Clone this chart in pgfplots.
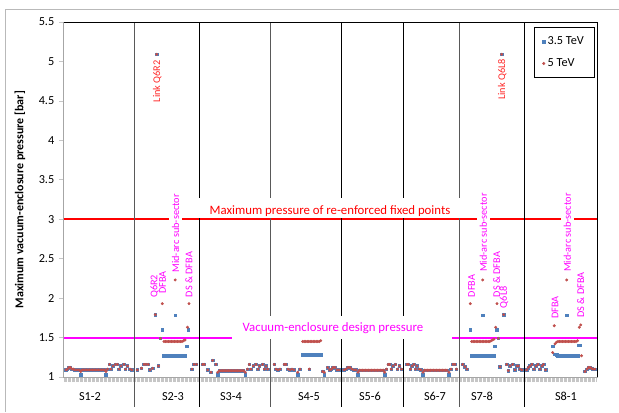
\documentclass[border=0pt]{standalone}
\usepackage{fontspec}
\setmainfont{Carlito}
\usepackage{pgfplots}
\usepackage{pgfplotstable}
\pgfplotsset{compat=1.18}
\definecolor{sblue}{RGB}{79,129,189}
\definecolor{sred}{RGB}{192,80,77}
\definecolor{mag}{RGB}{255,0,255}
\definecolor{lred}{RGB}{255,0,0}
\definecolor{lnkred}{RGB}{255,40,40}

\pgfplotstableread{
x b r
66 1.09 1.09
67.5 1.10 1.10
69 1.12 1.12
70.5 1.12 1.12
72 1.10 1.10
73.5 1.10 1.10
75 1.09 1.09
77 1.09 1.09
79 1.09 1.09
80.7 1.03 1.07
82 1.09 1.09
83.5 1.09 1.09
85 1.09 1.09
86.5 1.09 1.09
88 1.09 1.09
89.5 1.09 1.09
91 1.09 1.09
92.5 1.09 1.09
94 1.09 1.09
95.5 1.09 1.09
97 1.09 1.09
98.5 1.09 1.09
100 1.09 1.09
101.5 1.09 1.09
103 1.09 1.09
104.5 1.09 1.09
106 1.03 1.07
107.5 1.10 1.10
109.5 1.16 1.16
111 1.10 1.10
113 1.14 1.14
115.5 1.16 1.16
117.5 1.16 1.16
119 1.10 1.10
121 1.14 1.14
124 1.16 1.16
125.5 1.10 1.10
127.5 1.14 1.14
130 1.10 1.10
132 1.09 1.09
137.3 1.09 1.09
141.5 1.11 1.11
144 1.16 1.16
146 1.16 1.16
148.3 1.16 1.16
150 1.09 1.09
152.7 1.11 1.11
155.3 1.79 1.79
156.7 5.09 5.09
158.5 1.14 1.14
160.5 1.49 1.49
162.3 1.60 1.93
164 1.27 1.45
165.5 1.27 1.45
167 1.27 1.45
168.5 1.27 1.45
170 1.27 1.45
171.5 1.27 1.45
173 1.27 1.45
174.5 1.27 1.45
176 1.27 1.45
177.5 1.27 1.45
179 1.27 1.45
180.5 1.27 1.45
182 1.27 1.45
183.5 1.27 1.46
185 1.27 1.47
175.2 1.78 2.23
187 1.39 nan
187.5 nan 1.63
188.5 1.60 nan
189 nan 1.93
192 1.10 1.10
194 1.16 1.16
196.5 1.16 1.16
202.7 1.16 1.16
204.3 1.16 1.16
207.7 1.09 1.09
211 1.06 1.06
212.7 1.21 1.21
216 1.16 1.16
217.7 1.03 1.06
219.5 1.08 1.08
221 1.08 1.08
222.5 1.08 1.08
224 1.08 1.08
225.5 1.08 1.08
227 1.08 1.08
228.5 1.08 1.08
230 1.08 1.08
231.5 1.08 1.08
233 1.08 1.08
234.5 1.08 1.08
236 1.08 1.08
237.5 1.08 1.08
239 1.08 1.08
240.5 1.08 1.08
242 1.08 1.08
243.5 1.08 1.08
245.3 1.03 1.06
247.5 1.10 1.10
249.3 1.16 1.16
251 1.10 1.10
253.3 1.14 1.14
256 1.16 1.16
258 1.10 1.10
259.5 1.14 1.14
262.7 1.16 1.16
264.5 1.10 1.10
266 1.14 1.14
267.7 1.10 1.10
274.3 1.16 1.16
276 1.10 1.10
278 1.09 1.09
280 1.10 1.10
284.3 1.16 1.16
286 1.16 1.16
288 1.10 1.10
290 1.09 1.09
292 1.10 1.10
294 1.09 1.09
297.7 1.03 1.06
300 1.10 1.10
302.7 1.28 1.45
304.2 1.28 1.45
305.7 1.28 1.45
307.2 1.28 1.45
308.7 1.28 1.45
310.2 1.28 1.45
311.7 1.28 1.45
313.2 1.28 1.45
314.7 1.28 1.45
316.2 1.28 1.45
317.7 1.28 1.45
319.2 1.28 1.45
320.7 1.28 1.46
309.3 1.10 1.10
322.7 1.07 1.07
324.3 1.03 1.06
327.7 1.12 1.12
329.7 1.09 1.09
331.5 1.10 1.10
333 1.12 1.12
335 1.12 1.12
337 1.09 1.09
339 1.09 1.09
344 1.09 1.09
346 1.10 1.10
348 1.12 1.12
350 1.12 1.12
352 1.10 1.10
354 1.09 1.09
356 1.09 1.09
358 1.03 1.06
359.5 1.085 1.085
361 1.085 1.085
362.5 1.085 1.085
364 1.085 1.085
365.5 1.085 1.085
367 1.085 1.085
368.5 1.085 1.085
370 1.085 1.085
371.5 1.085 1.085
373 1.085 1.085
374.5 1.085 1.085
376 1.085 1.085
377.5 1.085 1.085
379 1.085 1.085
380.5 1.085 1.085
382 1.085 1.085
383.5 1.085 1.085
384.7 1.03 1.06
386.5 1.10 1.10
388.2 1.16 1.16
389.7 1.16 1.16
391.2 1.10 1.10
393 1.14 1.14
395.5 1.16 1.16
397.5 1.10 1.10
399.5 1.14 1.14
401.5 1.10 1.10
407 1.16 1.16
408.5 1.16 1.16
410.5 1.10 1.10
412 1.14 1.14
414 1.16 1.16
415.5 1.10 1.10
417 1.14 1.14
419 1.10 1.10
421 1.09 1.09
423 1.03 1.06
424.5 1.085 1.085
426 1.085 1.085
427.5 1.085 1.085
429 1.085 1.085
430.5 1.085 1.085
432 1.085 1.085
433.5 1.085 1.085
435 1.085 1.085
436.5 1.085 1.085
438 1.085 1.085
439.5 1.085 1.085
441 1.085 1.085
442.5 1.085 1.085
444 1.085 1.085
445.5 1.085 1.085
447 1.085 1.085
449 1.03 1.06
451 1.10 1.10
453 1.16 1.16
455 1.16 1.16
456.5 1.10 1.10
462.7 1.16 1.16
465 1.13 1.13
467 1.10 1.10
470.3 1.60 1.93
471.7 1.27 1.45
473.2 1.27 1.45
474.7 1.27 1.45
476.2 1.27 1.45
477.7 1.27 1.45
479.2 1.27 1.45
480.7 1.27 1.45
482.2 1.27 1.45
483.7 1.27 1.45
485.2 1.27 1.45
486.7 1.27 1.45
488.2 1.27 1.45
489.7 1.27 1.45
491.2 1.27 1.46
492.7 1.27 1.47
494 1.27 1.48
482.7 1.78 2.23
495 1.39 nan
495.7 nan 1.63
497 1.60 1.93
498.3 1.49 1.49
500 1.13 1.13
501.7 5.09 5.09
503.7 1.79 1.79
506.7 1.16 1.16
508.3 1.08 1.08
510 1.14 1.14
512.7 1.16 1.16
515 1.09 1.09
517 1.14 1.14
518.3 1.14 1.14
520 1.10 1.10
522 1.09 1.09
526.7 1.09 1.09
528.3 1.12 1.12
530 1.14 1.14
532 1.16 1.16
534 1.10 1.10
536 1.14 1.14
538 1.16 1.16
540 1.10 1.10
542 1.14 1.14
543.5 1.16 1.16
545.5 1.09 1.09
552.7 1.39 1.31
554.3 nan 1.65
555 1.29 1.42
556.5 1.28 1.44
558 1.27 1.45
559.5 1.27 1.45
561 1.27 1.45
562.5 1.27 1.45
564 1.27 1.45
565.5 1.27 1.45
567 1.27 1.45
568.5 1.27 1.45
570 1.27 1.45
571.5 1.27 1.45
573 1.27 1.45
574.5 1.27 1.45
576 1.27 1.45
577.5 1.27 1.46
566.7 1.78 2.23
578.3 1.40 nan
580 1.40 nan
579.3 nan 1.63
580.7 nan 1.66
581.5 nan 1.27
585 1.07 1.07
587 1.10 1.10
588.5 1.12 1.12
590 1.12 1.12
591.5 1.11 1.11
593 1.10 1.10
595 1.10 1.10
}\pts

\newcommand\tickfont{\fontsize{9.2}{11}\selectfont}
\newcommand\annfont{\fontsize{7.7}{9}\selectfont}
\newcommand\bigann{\fontsize{9.6}{11}\selectfont}

\begin{document}
\begin{tikzpicture}
\useasboundingbox (0,0) rectangle (464.25pt,309pt);
\draw[gray!55, line width=0.75pt] (3.75pt,0) -- (3.75pt,302.25pt) -- (464.25pt,302.25pt);
\begin{axis}[
  at={(48pt,26.25pt)}, anchor=south west,
  width=399.75pt, height=266.25pt, scale only axis,
  xmin=64, xmax=597, ymin=1, ymax=5.5,
  clip=false,
  axis line style={gray!70, line width=0.75pt},
  tick align=outside,
  xtick pos=bottom, ytick pos=left,
  ytick={1,1.5,2,2.5,3,3.5,4,4.5,5,5.5},
  yticklabel style={font=\tickfont},
  /pgf/number format/assume math mode=true,
  xtick={64,65.33,...,597},
  xticklabels={},
  major tick length=3.75pt,
  tick style={gray!45, line width=0.5pt},
  extra x ticks={90,173,231,309,370,435,482,566},
  extra x tick labels={S1-2,S2-3,S3-4,S4-5,S5-6,S6-7,S7-8,S8-1},
  extra x tick style={major tick length=0pt, tick label style={font=\tickfont, yshift=-8pt}},
  ylabel={Maximum vacuum-enclosure pressure [bar]},
  ylabel style={font=\bfseries\fontsize{9}{11}\selectfont, at={(axis description cs:-0.0826,0.5)}, anchor=center},
  legend style={at={(0.996,0.986)}, anchor=north east, draw=black, fill=white,
    font=\tickfont, row sep=5pt, inner xsep=6pt, inner ysep=5pt, cells={anchor=west}},
]
% horizontal reference lines
\addplot[lred, line width=1.5pt, forget plot] coordinates {(64,3) (597,3)};
\addplot[mag, line width=1.5pt, forget plot] coordinates {(64,1.5) (597,1.5)};
% sector separators
\foreach \xs/\cc in {134.7/gray!70!black, 199.3/black, 270.7/gray!70!black, 341.7/black, 404/black, 460/gray!70!black, 524.3/black}{
  \edef\tmp{\noexpand\draw[\cc, line width=0.75pt] (axis cs:\xs,5.5) -- (axis cs:\xs,0.62);}\tmp
}
% label boxes
\fill[white] (axis cs:197,3.015) rectangle (axis cs:462,3.27);
\node[text=lred, font=\bigann, inner sep=0pt] at (axis cs:330,3.104) {Maximum pressure of re-enforced fixed points};
\fill[white] (axis cs:232,1.48) rectangle (axis cs:452,1.767);
\node[text=mag, font=\bigann, inner sep=0pt] at (axis cs:333,1.621) {Vacuum-enclosure design pressure};
% rotated annotations
\node[rotate=90, anchor=west, text=lnkred, font=\annfont, inner sep=0pt] at (axis cs:157.3,4.48) {Link Q6R2};
\node[rotate=90, anchor=west, text=lnkred, font=\annfont, inner sep=0pt] at (axis cs:502.3,4.51) {Link Q6L8};
\node[rotate=90, anchor=west, text=mag, font=\annfont, inner sep=0pt] at (axis cs:154.5,2.00) {Q6R2};
\node[rotate=90, anchor=west, text=mag, font=\annfont, inner sep=0pt] at (axis cs:162.7,2.05) {DFBA};
\node[rotate=90, anchor=west, text=mag, font=\annfont, fill=white, inner xsep=0pt, inner ysep=2.2pt] at (axis cs:175.7,2.32) {Mid-arc sub-sector};
\node[rotate=90, anchor=west, text=mag, font=\annfont, inner sep=0pt] at (axis cs:189,2.01) {DS \& DFBA};
\node[rotate=90, anchor=west, text=mag, font=\annfont, inner sep=0pt] at (axis cs:471.7,2.01) {DFBA};
\node[rotate=90, anchor=west, text=mag, font=\annfont, fill=white, inner xsep=0pt, inner ysep=2.2pt] at (axis cs:483.3,2.33) {Mid-arc sub-sector};
\node[rotate=90, anchor=west, text=mag, font=\annfont, inner sep=0pt] at (axis cs:496.7,2.01) {DS \& DFBA};
\node[rotate=90, anchor=west, text=mag, font=\annfont, inner sep=0pt] at (axis cs:504,1.87) {Q6L8};
\node[rotate=90, anchor=west, text=mag, font=\annfont, inner sep=0pt] at (axis cs:555,1.735) {DFBA};
\node[rotate=90, anchor=west, text=mag, font=\annfont, fill=white, inner xsep=0pt, inner ysep=2.2pt] at (axis cs:567.3,2.33) {Mid-arc sub-sector};
\node[rotate=90, anchor=west, text=mag, font=\annfont, inner sep=0pt] at (axis cs:580.7,1.75) {DS \& DFBA};
% data
\addplot[only marks, mark=square*, mark size=0.95pt, color=sblue] table[x=x, y=b] {\pts};
\addlegendentry{3.5 TeV}
\addplot[only marks, mark=*, mark size=0.9pt, color=sred] table[x=x, y=r] {\pts};
\addlegendentry{5 TeV}
% plot area top/right border
\draw[black, line width=0.75pt] (axis cs:64,5.5) -- (axis cs:597,5.5) -- (axis cs:597,1);
\end{axis}
\end{tikzpicture}
\end{document}
